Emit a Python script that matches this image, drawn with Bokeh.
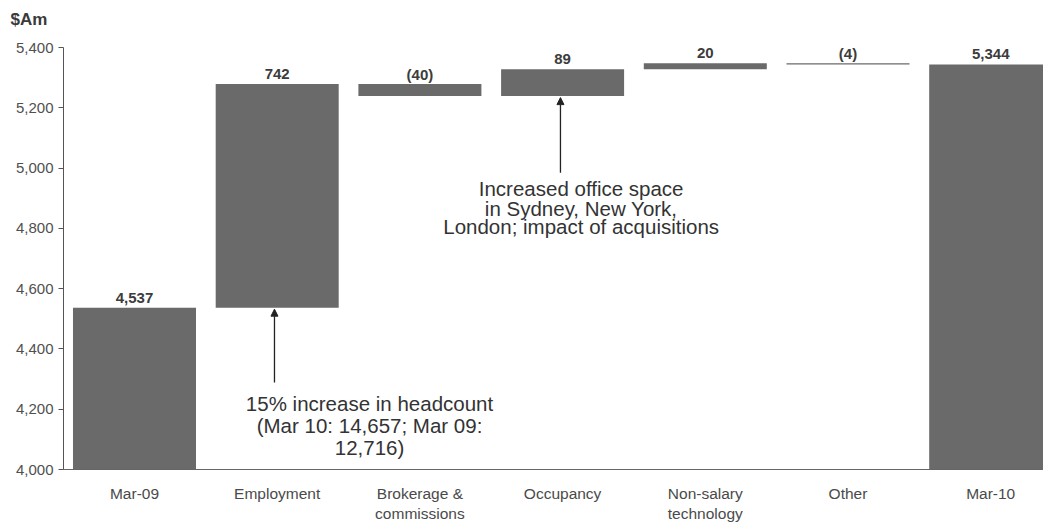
from bokeh.plotting import figure
from bokeh.models import Range1d, FixedTicker, NumeralTickFormatter, Arrow, NormalHead, ColumnDataSource
from bokeh.core.properties import value
from bokeh.embed import file_html
from bokeh.resources import INLINE

# ---- data ----
categories = ["Mar-09", "Employment", "Brokerage &\ncommissions", "Occupancy",
              "Non-salary\ntechnology", "Other", "Mar-10"]
amounts = [4537, 742, -40, 89, 20, -4, 5344]
is_total = [True, False, False, False, False, False, True]
value_labels = ["4,537", "742", "(40)", "89", "20", "(4)", "5,344"]
y_ticks = [4000, 4200, 4400, 4600, 4800, 5000, 5200, 5400]

note1_lines = ["15% increase in headcount", "(Mar 10: 14,657; Mar 09:", "12,716)"]
note2_lines = ["Increased office space", "in Sydney, New York,", "London; impact of acquisitions"]

# ---- waterfall geometry from data ----
xs = list(range(len(categories)))
bottoms, tops = [], []
running = 0
for amt, tot in zip(amounts, is_total):
    if tot:
        bottoms.append(4000)
        tops.append(amt)
        running = amt
    else:
        new = running + amt
        bottoms.append(min(running, new))
        tops.append(max(running, new))
        running = new

src = ColumnDataSource(dict(x=xs, bottom=bottoms, top=tops, label=value_labels))

FONT = "Liberation Sans"
BAR = "#6a6a6a"

p = figure(width=1043, height=524, output_backend="svg", toolbar_location=None,
           x_range=Range1d(-0.4975, 6.37), y_range=Range1d(4000, 5460),
           min_border_left=63, min_border_right=0, min_border_top=29, min_border_bottom=55)

p.background_fill_color = "white"
p.border_fill_color = "white"
p.outline_line_color = None
p.grid.visible = False

p.title.text = "$Am"
p.title.align = "left"
p.title.offset = -53
p.title.standoff = 2
p.title.text_font = FONT
p.title.text_font_size = "17px"
p.title.text_font_style = "bold"
p.title.text_color = "#3a3a3a"

p.vbar(x="x", bottom="bottom", top="top", width=0.862, source=src,
       fill_color=BAR, line_color=None)

p.text(x="x", y="top", text="label", source=src, text_align="center",
       text_baseline="alphabetic", y_offset=-10, text_font=value(FONT),
       text_font_size="15px", text_font_style="bold", text_color="#3c3c3c")

# annotations
n1_x = 1.647
n1_y = [4219, 4146, 4073]
n2_x = 3.13
n2_y = [4931, 4866, 4805]
p.text(x=[n1_x] * 3, y=n1_y, text=note1_lines, text_align="center", text_baseline="middle",
       text_font=value(FONT), text_font_size="20.5px", text_color="#333333")
p.text(x=[n2_x] * 3, y=n2_y, text=note2_lines, text_align="center", text_baseline="middle",
       text_font=value(FONT), text_font_size="20.5px", text_color="#333333")

p.add_layout(Arrow(end=NormalHead(size=7, line_color="#222222", fill_color="#222222"),
                   x_start=0.981, y_start=4289, x_end=0.981, y_end=bottoms[1] - 5,
                   line_width=1.3, line_color="#222222"))
p.add_layout(Arrow(end=NormalHead(size=7, line_color="#222222", fill_color="#222222"),
                   x_start=2.985, y_start=4985, x_end=2.985, y_end=bottoms[2] - 5,
                   line_width=1.3, line_color="#222222"))

# y axis
ya = p.yaxis[0]
ya.ticker = FixedTicker(ticks=y_ticks)
ya.formatter = NumeralTickFormatter(format="0,0")
ya.bounds = (4000, 5400)
ya.axis_line_color = "#555555"
ya.major_tick_line_color = "#555555"
ya.major_tick_out = 5
ya.major_tick_in = 0
ya.minor_tick_line_color = None
ya.major_label_standoff = 5
ya.major_label_text_font = FONT
ya.major_label_text_font_size = "15px"
ya.major_label_text_color = "#505050"

# x axis
xa = p.xaxis[0]
xa.ticker = FixedTicker(ticks=xs)
xa.major_label_overrides = {i: c for i, c in zip(xs, categories)}
xa.axis_line_color = "#666666"
xa.major_tick_line_color = None
xa.major_tick_out = 0
xa.major_tick_in = 0
xa.minor_tick_line_color = None
xa.major_label_standoff = 15
xa.major_label_text_font = FONT
xa.major_label_text_font_size = "15.5px"
xa.major_label_text_color = "#4a4a4a"

open("out.html", "w").write(file_html(p, INLINE))
